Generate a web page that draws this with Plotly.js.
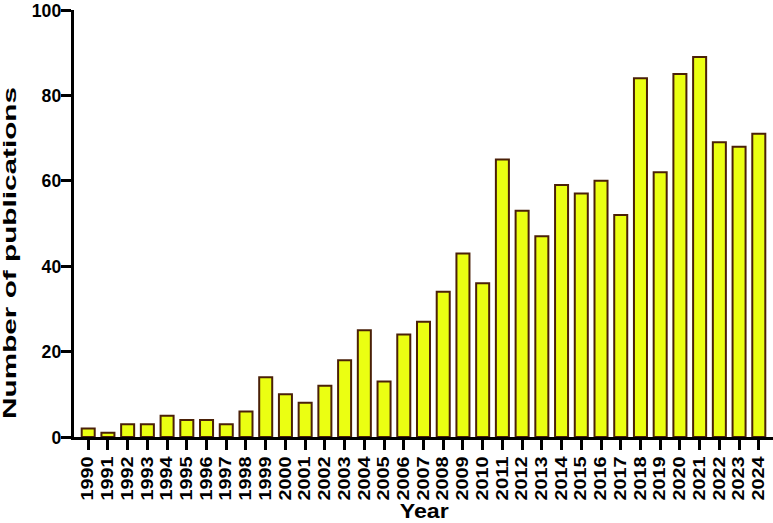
<!DOCTYPE html>
<html><head><meta charset="utf-8">
<script src="https://cdn.plot.ly/plotly-3.0.1.min.js"></script>
<style>html,body{margin:0;padding:0;background:#fff;}#chart{width:773px;height:523px;}</style>
</head><body><div id="chart"></div>
<script>
const years = ['1990','1991','1992','1993','1994','1995','1996','1997','1998','1999','2000','2001','2002','2003','2004','2005','2006','2007','2008','2009','2010','2011','2012','2013','2014','2015','2016','2017','2018','2019','2020','2021','2022','2023','2024'];
const publications = [2,1,3,3,5,4,4,3,6,14,10,8,12,18,25,13,24,27,34,43,36,65,53,47,59,57,60,52,84,62,85,89,69,68,71];
const yTicks = [0,20,40,60,80,100];
const xTitle = 'Year';
const yTitle = 'Number of publications';

const fam = '"Liberation Sans", Arial, sans-serif';
const fnt = (s) => ({family:fam, color:'#000', weight:'bold', size:s});

Plotly.newPlot('chart', [{
  type:'bar', x: years, y: publications, width:0.66,
  marker:{color:'#ebff12', line:{color:'#4a2008', width:2}},
  hoverinfo:'x+y'
}], {
  width:773, height:523,
  margin:{l:74, r:0, t:10, b:86},
  paper_bgcolor:'#fff', plot_bgcolor:'#fff',
  showlegend:false,
  xaxis:{type:'category', range:[-0.72, 34.72], showgrid:false, zeroline:false,
    showline:true, linecolor:'#000', linewidth:3,
    ticks:'outside', ticklen:10, tickwidth:3, tickcolor:'#000',
    tickangle:-90, tickfont:fnt(16), ticklabeloverflow:'allow'},
  yaxis:{range:[0,100], tickvals:yTicks, showgrid:false, zeroline:false,
    showline:true, linecolor:'#000', linewidth:3,
    ticks:'outside', ticklen:10, tickwidth:3, tickcolor:'#000',
    ticklabelstandoff:-4,
    tickfont:fnt(19), ticklabeloverflow:'allow'},
  annotations:[
    {text:xTitle, xref:'paper', yref:'paper', x:0.5, y:-0.172, xanchor:'center', yanchor:'middle',
     showarrow:false, font:fnt(21)},
    {text:yTitle, xref:'paper', yref:'paper', x:-0.0923, y:0.432, xanchor:'center', yanchor:'middle',
     textangle:-90, showarrow:false, font:fnt(19)}
  ]
}, {displayModeBar:false, staticPlot:true}).then(() => {
  const stretch = (el, len) => { el.setAttribute('textLength', len); el.setAttribute('lengthAdjust', 'spacingAndGlyphs'); };
  document.querySelectorAll('.xtick text').forEach(t => stretch(t, 44));
  document.querySelectorAll('.ytick text').forEach(t => stretch(t, t.textContent.length * 9.8));
  const ann = document.querySelectorAll('.annotation-text');
  ann.forEach(t => {
    if (t.textContent === yTitle) stretch(t, 332);
    if (t.textContent === xTitle) stretch(t, 49);
  });
});
</script></body></html>
